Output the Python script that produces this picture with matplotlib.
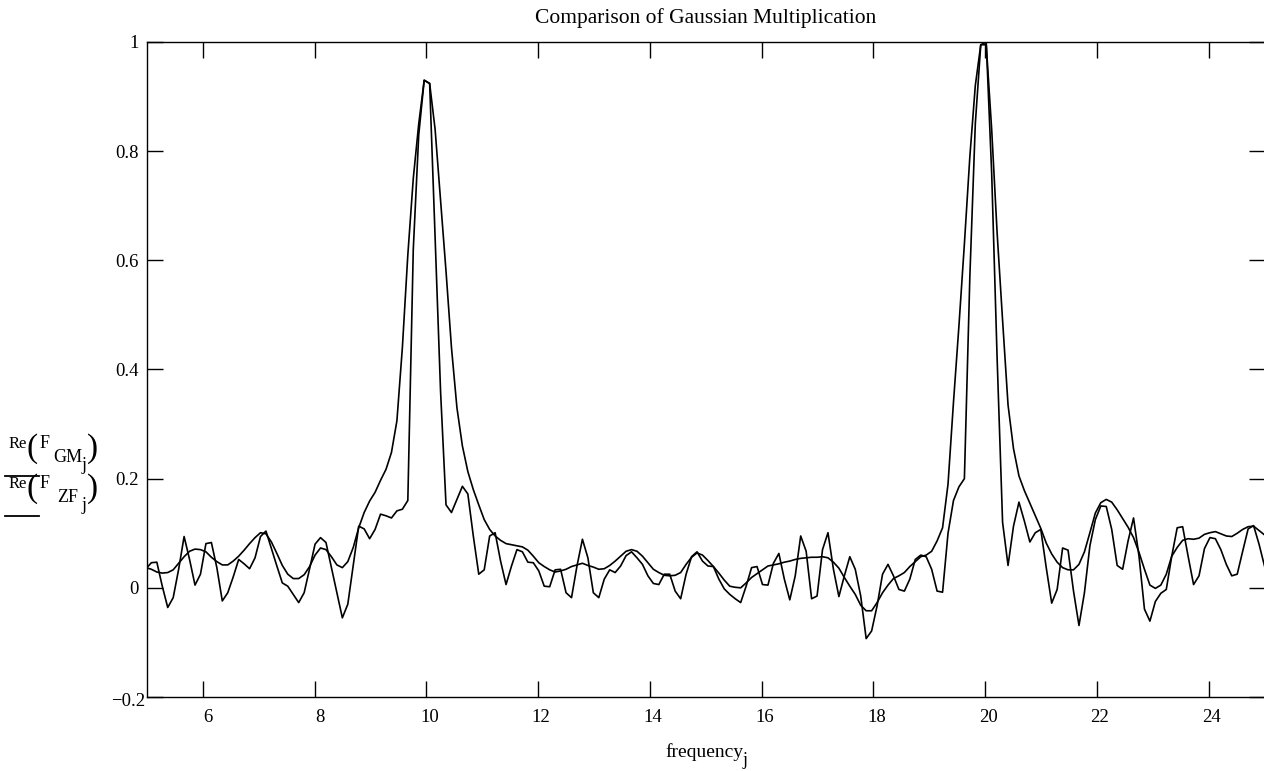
import numpy as np
import matplotlib
matplotlib.use('Agg')
import matplotlib.pyplot as plt
import matplotlib.transforms as mtransforms
from matplotlib.lines import Line2D

plt.rcParams['font.family'] = ['Liberation Serif', 'DejaVu Serif']

# sample index j and frequency step (Nyquist 25, 512-point transform)
j = np.arange(51, 257)
df = 50.0 / 512.0
frequency = j * df

re_GM = [
    0.037, 0.034, 0.029, 0.027, 0.028, 0.033, 0.045, 0.057, 0.067, 0.071,   # 51-60
    0.070, 0.066, 0.056, 0.048, 0.042, 0.042, 0.049, 0.058, 0.069, 0.081,   # 61-70
    0.092, 0.101, 0.099, 0.084, 0.063, 0.041, 0.025, 0.017, 0.017, 0.024,   # 71-80
    0.039, 0.060, 0.073, 0.070, 0.057, 0.042, 0.037, 0.048, 0.074, 0.110,   # 81-90
    0.138, 0.159, 0.175, 0.197, 0.217, 0.248, 0.306, 0.440, 0.610, 0.750,   # 91-100
    0.850, 0.930, 0.924, 0.840, 0.710, 0.580, 0.440, 0.330, 0.260, 0.213,   # 101-110
    0.180, 0.152, 0.125, 0.107, 0.095, 0.087, 0.081, 0.079, 0.077, 0.075,   # 111-120
    0.069, 0.058, 0.046, 0.039, 0.033, 0.029, 0.031, 0.034, 0.039, 0.042,   # 121-130
    0.045, 0.041, 0.038, 0.034, 0.035, 0.041, 0.049, 0.058, 0.067, 0.070,   # 131-140
    0.067, 0.058, 0.046, 0.034, 0.028, 0.023, 0.022, 0.023, 0.028, 0.043,   # 141-150
    0.056, 0.064, 0.060, 0.050, 0.039, 0.027, 0.014, 0.003, 0.001, 0.000,   # 151-160
    0.009, 0.019, 0.026, 0.033, 0.040, 0.042, 0.044, 0.047, 0.049, 0.052,   # 161-170
    0.054, 0.055, 0.056, 0.056, 0.057, 0.055, 0.047, 0.036, 0.019, 0.003,   # 171-180
    -0.012, -0.032, -0.042, -0.042, -0.027, -0.009, 0.005, 0.017, 0.022, 0.028,  # 181-190
    0.039, 0.048, 0.057, 0.060, 0.067, 0.086, 0.110, 0.190, 0.340, 0.480,   # 191-200
    0.630, 0.790, 0.920, 0.995, 0.995, 0.840, 0.650, 0.490, 0.335, 0.255,   # 201-210
    0.205, 0.178, 0.155, 0.132, 0.109, 0.082, 0.062, 0.047, 0.037, 0.033,   # 211-220
    0.033, 0.043, 0.066, 0.101, 0.137, 0.156, 0.162, 0.157, 0.143, 0.127,   # 221-230
    0.111, 0.092, 0.065, 0.034, 0.005, -0.001, 0.005, 0.025, 0.058, 0.074,  # 231-240
    0.087, 0.090, 0.089, 0.091, 0.098, 0.101, 0.103, 0.099, 0.095, 0.094,   # 241-250
    0.100, 0.107, 0.112, 0.113, 0.105, 0.097,                               # 251-256
]

re_ZF = [
    0.035, 0.046, 0.047, 0.003, -0.036, -0.018, 0.034, 0.094, 0.052, 0.005,  # 51-60
    0.025, 0.081, 0.083, 0.037, -0.024, -0.009, 0.020, 0.052, 0.044, 0.035,  # 61-70
    0.055, 0.094, 0.104, 0.072, 0.040, 0.009, 0.003, -0.012, -0.027, -0.009, # 71-80
    0.035, 0.080, 0.092, 0.083, 0.037, -0.009, -0.055, -0.030, 0.041, 0.113, # 81-90
    0.108, 0.090, 0.107, 0.135, 0.132, 0.128, 0.141, 0.144, 0.160, 0.620,    # 91-100
    0.830, 0.930, 0.924, 0.640, 0.360, 0.152, 0.138, 0.162, 0.186, 0.172,    # 101-110
    0.095, 0.025, 0.033, 0.095, 0.101, 0.049, 0.006, 0.040, 0.070, 0.066,    # 111-120
    0.047, 0.046, 0.031, 0.003, 0.002, 0.033, 0.034, -0.009, -0.018, 0.040,  # 121-130
    0.089, 0.055, -0.009, -0.018, 0.016, 0.033, 0.028, 0.040, 0.059, 0.066,  # 131-140
    0.055, 0.043, 0.022, 0.008, 0.006, 0.025, 0.025, -0.006, -0.020, 0.025,  # 141-150
    0.057, 0.066, 0.049, 0.040, 0.039, 0.016, -0.002, -0.012, -0.020, -0.027,  # 151-160
    0.003, 0.037, 0.039, 0.006, 0.005, 0.045, 0.063, 0.016, -0.022, 0.022,   # 161-170
    0.095, 0.067, -0.020, -0.015, 0.070, 0.101, 0.034, -0.016, 0.022, 0.057, # 171-180
    0.034, -0.015, -0.093, -0.079, -0.033, 0.025, 0.043, 0.022, -0.003, -0.006,  # 181-190
    0.016, 0.052, 0.060, 0.057, 0.034, -0.006, -0.008, 0.100, 0.160, 0.185,  # 191-200
    0.200, 0.570, 0.850, 0.995, 1.000, 0.760, 0.420, 0.120, 0.041, 0.113,    # 201-210
    0.157, 0.122, 0.084, 0.101, 0.107, 0.037, -0.028, -0.003, 0.073, 0.069,  # 211-220
    -0.006, -0.069, -0.009, 0.077, 0.125, 0.150, 0.149, 0.107, 0.041, 0.034, # 221-230
    0.086, 0.128, 0.058, -0.039, -0.061, -0.025, -0.010, -0.003, 0.058, 0.110,  # 231-240
    0.112, 0.058, 0.006, 0.022, 0.072, 0.092, 0.090, 0.070, 0.043, 0.022,    # 241-250
    0.025, 0.067, 0.108, 0.114, 0.080, 0.040,                                # 251-256
]

x_ticks = [6, 8, 10, 12, 14, 16, 18, 20, 22, 24]
y_ticks = [-0.2, 0, 0.2, 0.4, 0.6, 0.8, 1]
y_tick_labels = ['\u22120.2', '0', '0.2', '0.4', '0.6', '0.8', '1']

W, H = 1264, 771
fig = plt.figure(figsize=(W / 100, H / 100), dpi=100)
ax = fig.add_axes([147 / W, 74 / H, 1117.5 / W, 655 / H])

ax.plot(frequency, re_GM, color='black', lw=1.2)
ax.plot(frequency, re_ZF, color='black', lw=1.2)

ax.set_xlim(5, 25)
ax.set_ylim(-0.2, 1)
ax.set_xticks(x_ticks)
ax.set_xticklabels([str(t) for t in x_ticks])
ax.set_yticks(y_ticks)
ax.set_yticklabels(y_tick_labels)
ax.tick_params(direction='in', length=11.5, width=1.0, top=True, right=True,
               labelsize=13.5, colors='black')
ax.tick_params(axis='x', pad=9)
ax.tick_params(axis='y', pad=6)
for s in ax.spines.values():
    s.set_linewidth(1.0)
    s.set_color('black')

for lab in ax.get_xticklabels():
    dx = 5 if len(lab.get_text()) == 1 else 3
    off = mtransforms.ScaledTranslation(dx / 100, 0, fig.dpi_scale_trans)
    lab.set_transform(lab.get_transform() + off)

# the corner label sits closer to the axes
ylabs = ax.get_yticklabels()
ylabs[0].set_transform(ylabs[0].get_transform() +
                       mtransforms.ScaledTranslation(7 / 100, -2 / 100, fig.dpi_scale_trans))


def P(x, y):
    return (x / W, 1 - y / H)


fig.text(*P(705.5, 18), 'Comparison of Gaussian Multiplication',
         ha='center', va='center', fontsize=15.5)

fig.text(*P(704, 757), 'frequency', ha='center', va='baseline', fontsize=14)
fig.text(*P(743, 765), 'j', ha='left', va='baseline', fontsize=13)

# y-axis expressions with trace samples underneath
for dy, sub in [(0, 'GM'), (40, 'ZF')]:
    fig.text(*P(18, 444 + dy), 'Re', ha='center', va='center', fontsize=12)
    fig.text(*P(32, 449 + dy), '(', ha='center', va='center', fontsize=24)
    fig.text(*P(45, 444 + dy), 'F', ha='center', va='center', fontsize=13)
    fig.text(*P(68, 458 + dy), sub, ha='center', va='center', fontsize=13)
    fig.text(*P(84, 465 + dy), 'j', ha='center', va='center', fontsize=13)
    fig.text(*P(92, 449 + dy), ')', ha='center', va='center', fontsize=24)
    fig.add_artist(Line2D([5 / W, 39 / W], [1 - (476 + dy) / H] * 2,
                          color='black', lw=1.3, transform=fig.transFigure))

fig.savefig('out.png', dpi=100)
